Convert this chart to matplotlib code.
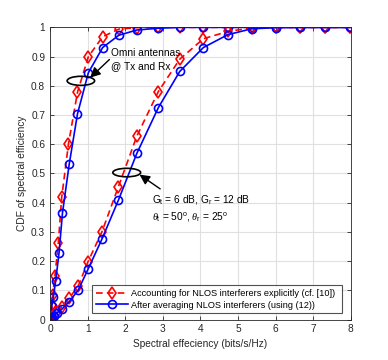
import matplotlib
matplotlib.use("Agg")
import matplotlib.pyplot as plt
from matplotlib.patches import Ellipse

# Omni antennas case
omni_x_red = [0, 0.01, 0.025, 0.045, 0.07, 0.13, 0.22, 0.31, 0.49, 0.73, 1.02, 1.40, 1.83, 2.31, 2.88, 3.46, 4.08, 4.73, 5.36, 6.0, 6.65, 7.31, 7.98]
omni_y_red = [0, 0.01, 0.025, 0.05, 0.084, 0.15, 0.261, 0.418, 0.601, 0.778, 0.90, 0.968, 0.994, 0.999, 1, 1, 1, 1, 1, 1, 1, 1, 1]
omni_x_blue = [0, 0.01, 0.02, 0.045, 0.09, 0.15, 0.24, 0.33, 0.51, 0.73, 1.02, 1.40, 1.83, 2.31, 2.88, 3.46, 4.08, 4.73, 5.36, 6.0, 6.65, 7.31, 7.98]
omni_y_blue = [0, 0.008, 0.02, 0.046, 0.078, 0.133, 0.229, 0.364, 0.532, 0.704, 0.845, 0.931, 0.973, 0.991, 0.997, 1, 1, 1, 1, 1, 1, 1, 1]

# Directional antennas case
dir_x = [0, 0.02, 0.05, 0.1, 0.18, 0.32, 0.51, 0.75, 1.01, 1.38, 1.82, 2.31, 2.88, 3.45, 4.08, 4.73, 5.36, 6.0, 6.65, 7.31, 7.98]
dir_y_red = [0, 0.003, 0.008, 0.015, 0.027, 0.044, 0.073, 0.115, 0.198, 0.30, 0.455, 0.628, 0.78, 0.891, 0.961, 0.986, 0.998, 1, 1, 1, 1]
dir_y_blue = [0, 0.002, 0.006, 0.012, 0.022, 0.036, 0.061, 0.101, 0.172, 0.275, 0.409, 0.569, 0.725, 0.849, 0.931, 0.975, 0.995, 0.999, 1, 1, 1]

labels = ["Accounting for NLOS interferers explicitly (cf. [10])",
          "After averaging NLOS interferers (using (12))"]
xticks = [0, 1, 2, 3, 4, 5, 6, 7, 8]
yticks = [0, 0.1, 0.2, 0.3, 0.4, 0.5, 0.6, 0.7, 0.8, 0.9, 1]

plt.rcParams['font.family'] = ['Liberation Sans', 'DejaVu Sans']
plt.rcParams['mathtext.fontset'] = 'custom'
plt.rcParams['mathtext.rm'] = 'Liberation Sans'
plt.rcParams['mathtext.it'] = 'Liberation Serif:italic'

FS = 7.3
fig = plt.figure(figsize=(3.88, 3.6), dpi=100)
ax = fig.add_axes([0.129, 0.1125, 0.775, 0.8115])

red_kw = dict(color='#ff0000', linestyle=(0, (4, 2.5)), linewidth=1.2, marker='d', markersize=6,
              markerfacecolor='none', markeredgewidth=1.2)
blue_kw = dict(color='#0000ff', linestyle='-', linewidth=1.2, marker='o', markersize=5.8,
               markerfacecolor='none', markeredgewidth=1.2)

l1, = ax.plot(omni_x_red, omni_y_red, **red_kw)
l2, = ax.plot(omni_x_blue, omni_y_blue, **blue_kw)
ax.plot(dir_x, dir_y_red, **red_kw)
ax.plot(dir_x, dir_y_blue, **blue_kw)

ax.set_xlim(0, 8)
ax.set_ylim(0, 1)
ax.set_xticks(xticks)
ax.set_yticks(yticks)
ax.set_xticklabels([str(t) for t in xticks])
ax.set_yticklabels(['0', '0.1', '0.2', '0.3', '0.4', '0.5', '0.6', '0.7', '0.8', '0.9', '1'])
ax.grid(True, color='#e0e0e0', linewidth=0.8)
ax.set_axisbelow(True)
ax.tick_params(direction='in', top=True, right=True, labelsize=FS, colors='#262626', length=3, width=0.6)
for s in ax.spines.values():
    s.set_color('#262626')
    s.set_linewidth(0.6)

ax.set_xlabel('Spectral effeciency (bits/s/Hz)', fontsize=FS, color='#262626', labelpad=3)
ax.set_ylabel('CDF of spectral efficiency', fontsize=FS, color='#262626', labelpad=3)

# annotations
ax.add_patch(Ellipse((0.82, 0.817), 0.73, 0.031, fill=False, edgecolor='k', linewidth=1.2, zorder=5))
ax.annotate('', xy=(1.07, 0.828), xytext=(1.58, 0.89),
            arrowprops=dict(arrowstyle='-|>,head_length=0.6,head_width=0.3', color='k', lw=1.0,
                            mutation_scale=10, shrinkA=0, shrinkB=0))
ax.text(1.63, 0.912, 'Omni antennas', fontsize=FS, ha='left', va='center')
ax.text(1.63, 0.866, '@ Tx and Rx', fontsize=FS, ha='left', va='center')

ax.add_patch(Ellipse((2.04, 0.503), 0.74, 0.029, fill=False, edgecolor='k', linewidth=1.2, zorder=5))
ax.annotate('', xy=(2.38, 0.496), xytext=(2.93, 0.447),
            arrowprops=dict(arrowstyle='-|>,head_length=0.6,head_width=0.3', color='k', lw=1.0,
                            mutation_scale=10, shrinkA=0, shrinkB=0))
ax.text(2.7, 0.41, r'G$_\mathrm{t}$ = 6 dB, G$_\mathrm{r}$ = 12 dB', fontsize=FS, ha='left', va='center')
ax.text(2.7, 0.352, r'$\mathit{\theta}_\mathrm{t}$ = 50$^\mathrm{o}$, $\mathit{\theta}_\mathrm{r}$ = 25$^\mathrm{o}$',
        fontsize=FS, ha='left', va='center')

leg = ax.legend([l1, l2], labels, loc='lower left', bbox_to_anchor=(0.139, 0.021, 0.833, 0.114),
                mode='expand', fontsize=6.6, frameon=True, fancybox=False, borderpad=0.4,
                handlelength=3.5, handletextpad=0.4, labelspacing=0.3, borderaxespad=0)
leg.get_frame().set_edgecolor('#262626')
leg.get_frame().set_linewidth(0.8)

fig.savefig('out.png', dpi=100)
